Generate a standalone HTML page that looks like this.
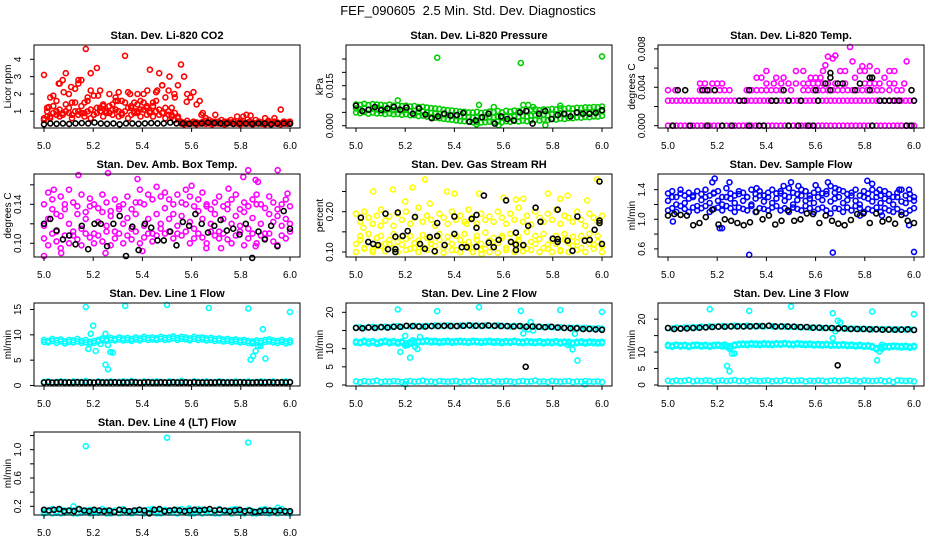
<!DOCTYPE html>
<html><head><meta charset="utf-8">
<style>
html,body{margin:0;padding:0;background:#fff;}
svg{display:block;font-family:"Liberation Sans",Arial,sans-serif;}
</style></head>
<body>
<svg id="chart" width="936" height="540" viewBox="0 0 936 540">
<text x="468" y="15" text-anchor="middle" font-size="13" style="white-space:pre" xml:space="preserve">FEF_090605  2.5 Min. Std. Dev. Diagnostics</text>
</svg>
<script>
// ---------- data ----------
const xTicks = [5.0, 5.2, 5.4, 5.6, 5.8, 6.0];
const xTickLabels = ["5.0", "5.2", "5.4", "5.6", "5.8", "6.0"];

const co2RedA = [0.5,0.7,0.6,0.9,1.0,0.7,0.8,1.0,0.9,0.6,1.0,0.8,0.9,0.7,1.0,0.6,0.8,0.9,1.2,0.7,1.0,0.9,0.8,1.1,0.7,0.9,1.0,0.6,0.8,1.0,0.9,0.7,1.1,0.8,0.9,0.7,1.0,0.8,0.9,0.6,0.8,0.7,0.5,0.6,0.4,0.35,0.45,0.3,0.4,0.35,0.3,0.4,0.45,0.35,0.3,0.4,0.35,0.3,0.4,0.3,0.35,0.4,0.3,0.35,0.45,0.3,0.4,0.35,0.3,0.4,0.35,0.3,0.45,0.3,0.4,0.35,0.3,0.4,0.35,0.3];
const co2RedB = [3.1,1.2,1.8,1.9,1.6,2.6,2.8,3.2,2.0,1.5,2.3,2.6,2.8,1.5,1.8,3.2,1.9,3.5,2.2,1.3,1.0,2.0,1.4,1.8,2.1,1.6,4.2,2.1,1.2,1.5,1.0,1.6,2.0,1.3,3.4,1.5,2.1,3.2,2.5,1.8,2.2,1.2,1.8,2.5,3.7,3.0,2.0,1.8,2.1,1.4,1.6,0.9,0.6,0.5,0.4,0.8,0.4,0.5,0.3,0.4,0.5,0.4,0.7,0.4,0.3,0.8,0.4,0.3,0.5,0.4,0.3,0.6,0.4,0.3,0.6,0.3,1.1,0.4,0.3,0.4];
const co2RedC = [0.6,1.0,0.7,1.3,0.8,1.1,0.9,1.4,1.2,0.8,1.5,1.0,1.3,0.9,1.6,1.1,0.8,1.2,1.0,1.4,0.9,1.3,1.1,1.6,1.0,0.8,1.5,1.2,1.3,0.9,1.4,1.1,1.5,1.2,1.0,1.3,1.6,1.1,0.9,1.2,1.0,0.8,0.9,0.7,0.3,0.25,0.3,0.28,0.3,0.25,0.32,0.3,0.28,0.3,0.25,0.3,0.3,0.28,0.25,0.3,0.32,0.28,0.3,0.25,0.3,0.28,0.3,0.25,0.3,0.3,0.28,0.25,0.3,0.32,0.3,0.28,0.25,0.3,0.28,0.3];
const co2RedOut = [[5.17,4.6],[5.06,2.6],[5.02,1.25],[5.08,2.1],[5.11,2.4],[5.14,2.8],[5.19,2.2],[5.22,1.9],[5.3,1.6],[5.35,2.0],[5.38,2.0],[5.42,2.2],[5.46,2.2],[5.48,2.5],[5.51,3.0],[5.53,2.0],[5.58,1.55],[5.64,0.8],[5.81,0.7],[5.84,0.75]];
const co2Black = [0.25,0.3,0.28,0.3,0.27,0.3,0.32,0.3,0.35,0.3,0.28,0.3,0.25,0.3,0.3,0.28,0.3,0.32,0.3,0.3,0.35,0.3,0.3,0.28,0.3,0.3,0.35,0.32,0.3,0.3,0.28,0.3,0.3,0.28,0.3,0.3,0.25,0.3,0.3,0.28];

const presMid = [0.0065,0.0062,0.0066,0.0060,0.0064,0.0061,0.0063,0.0059,0.0062,0.0058,0.0060,0.0057,0.0059,0.0055,0.0056,0.0052,0.0054,0.0050,0.0048,0.0046,0.0044,0.0042,0.0040,0.0038,0.0036,0.0035,0.0033,0.0032,0.0030,0.0031,0.0029,0.0030,0.0032,0.0031,0.0033,0.0030,0.0034,0.0032,0.0035,0.0033,0.0036,0.0034,0.0037,0.0039,0.0036,0.0040,0.0038,0.0042,0.0040,0.0044,0.0042,0.0046,0.0045,0.0048,0.0047,0.0050,0.0049,0.0052,0.0051,0.0054];
const presHi = [0.0080,0.0078,0.0082,0.0077,0.0081,0.0079,0.0078,0.0076,0.0079,0.0075,0.0077,0.0074,0.0075,0.0072,0.0074,0.0070,0.0071,0.0068,0.0066,0.0065,0.0063,0.0060,0.0058,0.0057,0.0055,0.0053,0.0052,0.0050,0.0049,0.0052,0.0048,0.0050,0.0053,0.0051,0.0055,0.0050,0.0056,0.0053,0.0057,0.0055,0.0059,0.0056,0.0060,0.0062,0.0058,0.0061,0.0060,0.0063,0.0061,0.0065,0.0063,0.0066,0.0064,0.0067,0.0066,0.0069,0.0068,0.0070,0.0069,0.0072];
const presLo = [0.0050,0.0047,0.0051,0.0045,0.0049,0.0046,0.0047,0.0044,0.0046,0.0043,0.0044,0.0041,0.0043,0.0039,0.0040,0.0036,0.0038,0.0034,0.0032,0.0030,0.0028,0.0026,0.0024,0.0022,0.0020,0.0018,0.0017,0.0015,0.0013,0.0014,0.0012,0.0013,0.0015,0.0014,0.0016,0.0013,0.0017,0.0015,0.0018,0.0016,0.0019,0.0017,0.0020,0.0022,0.0019,0.0023,0.0021,0.0025,0.0023,0.0027,0.0025,0.0029,0.0028,0.0031,0.0030,0.0033,0.0032,0.0035,0.0034,0.0037];
const presOut = [[5.33,0.0255],[5.67,0.0235],[6.0,0.026],[5.17,0.0095],[5.5,0.0078],[5.68,0.0078],[5.7,0.0078],[5.83,0.0075],[5.49,0.0005],[5.58,0.0002],[5.77,0.0002],[5.56,0.007],[5.72,0.007]];
const presBlack = [0.0075,0.0055,0.006,0.007,0.0058,0.0065,0.007,0.006,0.0068,0.0045,0.0065,0.0042,0.0028,0.0035,0.0045,0.0038,0.004,0.0048,0.0015,0.002,0.0032,0.0045,0.0008,0.0035,0.0025,0.002,0.005,0.0055,0.0008,0.0045,0.0055,0.0025,0.004,0.0045,0.0035,0.005,0.0045,0.0045,0.0048,0.0058];

const tempZero = [0,0,0,0,0,0,0,0,0,0,0,0,0,0,0,0,0,0,0,0,0,0,0,0,0,0,0,0,0,0,0,0,0,0,0,0,0,0,0,0,0,0,0,0,0,0,0,0,0,0,0,0,0,0,0,0,0,0,0,0];
const tempLevel2 = [0.0026,0.0026,0.0026,0.0026,0.0026,0.0026,0.0026,0.0026,0.0026,0.0026,0.0026,0.0026,0.0026,0.0026,0.0026,0.0026,0.0026,0.0026,0.0026,0.0026,0.0026,0.0026,0.0026,0.0026,0.0026,0.0026,0.0026,0.0026,0.0026,0.0026,0.0026,0.0026,0.0026,0.0026,0.0026,0.0026,0.0026,0.0026,0.0026,0.0026,0.0026,0.0026,0.0026,0.0026,0.0026,0.0026,0.0026,0.0026,0.0026,0.0026,0.0026,0.0026,0.0026,0.0026,0.0026,0.0026,0.0026,0.0026,0.0026,0.0026];
const tempLevel3X = [5.0,5.03,5.13,5.15,5.17,5.19,5.21,5.23,5.25,5.32,5.34,5.36,5.38,5.4,5.42,5.44,5.46,5.5,5.55,5.57,5.59,5.61,5.63,5.65,5.67,5.69,5.71,5.73,5.75,5.77,5.79,5.81,5.83,5.85,5.87,5.9,5.93,5.95];
const tempLevel3Y = [0.0037,0.0037,0.0037,0.0037,0.0037,0.0037,0.0037,0.0037,0.0037,0.0037,0.0037,0.0037,0.0037,0.0037,0.0037,0.0037,0.0037,0.0037,0.0037,0.0037,0.0037,0.0037,0.0037,0.0037,0.0037,0.0037,0.0037,0.0037,0.0037,0.0037,0.0037,0.0037,0.0037,0.0037,0.0037,0.0037,0.0037,0.0037];
const tempLevel4X = [5.13,5.15,5.18,5.2,5.22,5.4,5.43,5.46,5.49,5.52,5.55,5.57,5.59,5.61,5.63,5.65,5.68,5.72,5.8,5.82,5.84,5.86,5.9,5.92,5.96];
const tempLevel4Y = [0.0044,0.0044,0.0044,0.0044,0.0044,0.0044,0.0044,0.0044,0.0044,0.0044,0.0044,0.0044,0.0044,0.0044,0.0044,0.0044,0.0044,0.0044,0.0044,0.0044,0.0044,0.0044,0.0044,0.0044,0.0044];
const tempHigh = [[5.36,0.005],[5.38,0.005],[5.4,0.0057],[5.44,0.005],[5.47,0.005],[5.52,0.0057],[5.55,0.0057],[5.6,0.005],[5.62,0.005],[5.63,0.0057],[5.64,0.0063],[5.65,0.0072],[5.67,0.007],[5.68,0.0073],[5.7,0.0057],[5.72,0.0057],[5.74,0.0082],[5.75,0.0067],[5.78,0.0057],[5.79,0.0062],[5.82,0.0062],[5.8,0.0057],[5.85,0.0057],[5.9,0.0057],[5.92,0.0057],[5.97,0.0067],[5.88,0.005],[5.76,0.005],[5.58,0.005]];
const tempBlack = [[5.02,0],[5.09,0],[5.16,0],[5.22,0],[5.26,0],[5.33,0],[5.37,0],[5.39,0],[5.49,0],[5.53,0],[5.57,0],[5.59,0],[5.83,0],[5.97,0],[5.99,0],[5.04,0.0037],[5.07,0.0037],[5.14,0.0037],[5.16,0.0037],[5.19,0.0037],[5.33,0.0037],[5.47,0.0037],[5.6,0.0037],[5.66,0.0037],[5.76,0.0037],[5.82,0.0037],[5.99,0.0037],[5.29,0.0026],[5.31,0.0026],[5.42,0.0026],[5.44,0.0026],[5.49,0.0026],[5.54,0.0026],[5.61,0.0026],[5.86,0.0026],[5.88,0.0026],[5.9,0.0026],[5.92,0.0026],[5.94,0.0026],[6.0,0.0026],[5.64,0.0044],[5.69,0.0044],[5.71,0.0044],[5.78,0.0044],[5.66,0.005],[5.66,0.0055],[5.83,0.005],[5.82,0.005]];

const ambA = [0.118,0.125,0.135,0.112,0.128,0.14,0.12,0.108,0.13,0.115,0.125,0.138,0.11,0.122,0.132,0.118,0.128,0.112,0.135,0.12,0.126,0.115,0.13,0.142,0.118,0.125,0.11,0.13,0.12,0.136,0.125,0.13,0.118,0.128,0.14,0.122,0.115,0.133,0.125,0.138,0.12,0.13,0.112,0.125,0.135,0.12,0.128,0.118,0.132,0.115,0.126,0.14,0.12,0.11,0.13,0.122,0.128,0.118,0.125,0.12];
const ambB = [0.14,0.152,0.145,0.13,0.148,0.135,0.155,0.142,0.138,0.15,0.132,0.146,0.14,0.136,0.15,0.142,0.133,0.145,0.138,0.14,0.148,0.135,0.142,0.155,0.14,0.15,0.145,0.158,0.148,0.152,0.145,0.14,0.15,0.142,0.155,0.148,0.138,0.145,0.152,0.14,0.135,0.142,0.148,0.138,0.14,0.145,0.15,0.135,0.142,0.138,0.145,0.15,0.14,0.136,0.148,0.142,0.135,0.14,0.145,0.138];
const ambC = [0.105,0.098,0.11,0.102,0.095,0.108,0.1,0.112,0.104,0.098,0.11,0.106,0.1,0.108,0.102,0.112,0.098,0.105,0.11,0.1,0.108,0.104,0.112,0.1,0.106,0.11,0.102,0.108,0.115,0.11,0.112,0.105,0.11,0.108,0.112,0.1,0.105,0.11,0.106,0.1,0.112,0.108,0.105,0.11,0.104,0.1,0.108,0.112,0.098,0.105,0.11,0.1,0.108,0.105,0.11,0.102,0.098,0.108,0.105,0.112];
const ambOut = [[5.0,0.087],[5.14,0.17],[5.04,0.155],[5.26,0.172],[5.38,0.166],[5.6,0.159],[5.75,0.156],[5.83,0.175],[5.81,0.168],[5.86,0.165],[5.87,0.163],[5.95,0.175],[5.99,0.151],[5.07,0.09],[5.25,0.09],[5.4,0.092],[5.66,0.095],[5.72,0.095],[5.86,0.097]];
const ambBlack = [0.12,0.125,0.113,0.104,0.108,0.099,0.118,0.094,0.12,0.12,0.097,0.12,0.128,0.087,0.117,0.093,0.12,0.116,0.103,0.103,0.112,0.098,0.122,0.118,0.13,0.12,0.111,0.118,0.124,0.113,0.115,0.109,0.12,0.085,0.112,0.104,0.118,0.097,0.133,0.115];

const rhLoA = [0.12,0.13,0.11,0.125,0.105,0.135,0.115,0.12,0.13,0.11,0.125,0.118,0.132,0.108,0.122,0.128,0.112,0.135,0.12,0.115,0.13,0.11,0.125,0.12,0.105,0.13,0.118,0.125,0.112,0.13,0.12,0.108,0.128,0.115,0.122,0.135,0.11,0.125,0.12,0.13,0.115,0.108,0.125,0.12,0.132,0.11,0.118,0.128,0.12,0.105,0.13,0.122,0.115,0.125,0.11,0.13,0.12,0.118,0.125,0.115];
const rhLoB = [0.1,0.14,0.108,0.145,0.1,0.115,0.14,0.102,0.12,0.145,0.1,0.138,0.105,0.14,0.11,0.1,0.142,0.105,0.13,0.1,0.145,0.098,0.138,0.105,0.14,0.1,0.145,0.11,0.1,0.14,0.105,0.148,0.1,0.135,0.098,0.14,0.105,0.145,0.1,0.138,0.102,0.15,0.105,0.14,0.1,0.145,0.108,0.1,0.14,0.102,0.145,0.1,0.138,0.105,0.14,0.1,0.145,0.108,0.14,0.1];
const rhHi = [0.195,0.175,0.2,0.185,0.17,0.19,0.205,0.178,0.188,0.165,0.195,0.18,0.2,0.17,0.185,0.21,0.175,0.19,0.18,0.165,0.195,0.185,0.17,0.2,0.18,0.19,0.175,0.205,0.185,0.17,0.195,0.18,0.188,0.175,0.2,0.185,0.17,0.195,0.18,0.21,0.175,0.19,0.168,0.2,0.185,0.175,0.195,0.18,0.205,0.17,0.19,0.185,0.175,0.2,0.18,0.165,0.195,0.185,0.175,0.19];
const rhOut = [[5.07,0.25],[5.15,0.255],[5.23,0.26],[5.28,0.28],[5.37,0.25],[5.4,0.245],[5.5,0.245],[5.6,0.235],[5.65,0.23],[5.68,0.232],[5.78,0.245],[5.83,0.232],[5.86,0.24],[5.94,0.228],[5.98,0.28],[5.2,0.225],[5.3,0.22],[5.51,0.095],[5.03,0.16],[5.1,0.165],[5.45,0.17]];
const rhBlack = [[5.02,0.185],[5.05,0.125],[5.07,0.12],[5.09,0.117],[5.12,0.195],[5.13,0.107],[5.16,0.1],[5.16,0.107],[5.17,0.198],[5.16,0.138],[5.19,0.14],[5.21,0.152],[5.24,0.187],[5.26,0.12],[5.28,0.108],[5.3,0.137],[5.32,0.102],[5.33,0.172],[5.33,0.14],[5.36,0.117],[5.4,0.145],[5.4,0.188],[5.43,0.112],[5.45,0.112],[5.47,0.182],[5.49,0.113],[5.49,0.192],[5.49,0.16],[5.52,0.24],[5.54,0.123],[5.56,0.112],[5.58,0.13],[5.61,0.228],[5.63,0.125],[5.65,0.118],[5.65,0.148],[5.65,0.105],[5.68,0.117],[5.7,0.165],[5.73,0.21],[5.75,0.175],[5.8,0.133],[5.82,0.132],[5.82,0.205],[5.82,0.125],[5.86,0.128],[5.88,0.103],[5.9,0.188],[5.93,0.128],[5.95,0.13],[5.97,0.155],[5.99,0.275],[5.99,0.172],[5.99,0.178],[6.0,0.12]];

const sfA = [1.25,1.3,1.2,1.35,1.22,1.28,1.32,1.18,1.26,1.3,1.22,1.35,1.25,1.2,1.3,1.28,1.22,1.34,1.25,1.3,1.2,1.28,1.32,1.24,1.3,1.22,1.28,1.35,1.25,1.3,1.2,1.26,1.32,1.25,1.28,1.22,1.3,1.26,1.34,1.24,1.28,1.3,1.22,1.26,1.32,1.25,1.2,1.3,1.28,1.24,1.3,1.22,1.28,1.25,1.2,1.3,1.24,1.22,1.28,1.25];
const sfB = [1.35,1.38,1.3,1.4,1.32,1.36,1.3,1.38,1.34,1.4,1.32,1.36,1.38,1.3,1.42,1.35,1.32,1.38,1.36,1.3,1.4,1.34,1.38,1.32,1.36,1.4,1.35,1.38,1.32,1.42,1.36,1.34,1.4,1.38,1.32,1.36,1.4,1.35,1.38,1.45,1.36,1.4,1.38,1.34,1.36,1.4,1.32,1.38,1.35,1.4,1.36,1.32,1.38,1.34,1.3,1.36,1.4,1.32,1.34,1.3];
const sfC = [1.12,1.15,1.1,1.18,1.14,1.1,1.16,1.12,1.15,1.18,1.1,1.14,1.16,1.12,1.18,1.15,1.1,1.16,1.14,1.12,1.18,1.1,1.15,1.14,1.12,1.16,1.18,1.12,1.15,1.1,1.16,1.14,1.12,1.18,1.15,1.1,1.14,1.16,1.12,1.08,1.15,1.14,1.1,1.16,1.12,1.18,1.15,1.1,1.14,1.12,1.16,1.1,1.15,1.12,1.1,1.14,1.1,1.08,1.12,1.15];
const sfOut = [[5.02,0.97],[5.18,1.5],[5.19,1.55],[5.25,1.5],[5.21,0.88],[5.22,0.88],[5.33,0.52],[5.36,1.42],[5.47,1.45],[5.5,1.5],[5.53,1.45],[5.6,1.46],[5.65,1.5],[5.67,0.55],[5.68,1.42],[5.81,1.52],[5.83,1.48],[5.86,1.4],[5.94,1.4],[5.98,1.4],[5.98,0.92],[6.0,0.56],[5.78,1.05],[5.87,1.05]];
const sfBlack = [1.05,1.07,1.06,1.05,0.92,0.95,1.03,1.13,0.93,1.0,0.98,0.95,0.92,0.96,1.1,1.0,1.05,0.93,0.98,1.12,0.98,1.0,1.08,1.07,0.95,1.05,0.98,0.94,0.92,0.99,1.07,1.08,0.95,1.08,0.97,1.0,0.94,1.06,0.98,0.95];

const l1BandA = [9.0,8.8,9.2,8.9,9.1,8.7,9.0,8.9,9.2,8.8,9.0,8.6,8.8,9.0,9.3,9.1,9.4,9.2,9.5,9.3,9.4,9.2,9.5,9.3,9.6,9.4,9.5,9.3,9.6,9.4,9.5,9.7,9.4,9.6,9.5,9.3,9.6,9.4,9.5,9.3,9.4,9.2,9.3,9.1,9.2,9.0,9.1,8.9,9.0,8.8,8.7,8.9,8.8,9.0,9.1,8.9,8.8,9.0,8.7,8.9];
const l1BandB = [8.6,8.5,8.8,8.4,8.7,8.3,8.6,8.5,8.7,8.4,8.5,8.2,8.4,8.7,8.9,8.8,9.0,8.9,9.1,8.9,9.0,8.8,9.1,8.9,9.2,9.0,9.1,9.0,9.2,9.0,9.1,9.3,9.0,9.2,9.1,8.9,9.2,9.0,9.1,8.9,9.0,8.8,8.9,8.7,8.8,8.6,8.7,8.5,8.6,8.4,8.3,8.5,8.4,8.6,8.7,8.5,8.4,8.6,8.3,8.5];
const l1Low = [0.7,0.8,0.6,0.7,0.8,0.7,0.6,0.8,0.7,0.7,0.9,0.7,0.6,0.8,0.7,0.7,0.8,0.6,0.7,0.8,0.7,0.9,0.7,0.6,0.8,0.7,0.7,0.8,0.7,0.6,0.8,0.7,0.7,0.9,0.7,0.6,0.8,0.7,0.7,0.8,0.6,0.7,0.8,0.7,0.7,0.6,0.8,0.7,0.7,0.8,0.6,0.7,0.8,0.7,0.7,0.8,0.6,0.7,0.8,0.7];
const l1Out = [[5.17,15.5],[5.33,15.7],[5.5,15.9],[5.67,15.3],[5.83,15.2],[6.0,14.5],[5.18,7.2],[5.19,10.2],[5.2,11.8],[5.21,6.8],[5.25,10.2],[5.25,4.1],[5.26,3.2],[5.27,6.6],[5.28,6.5],[5.26,8.0],[5.23,8.2],[5.84,5.1],[5.85,5.8],[5.86,6.8],[5.87,7.8],[5.88,7.8],[5.89,11.1],[5.9,5.3],[5.85,8.5]];
const l1Black = [0.6,0.65,0.6,0.62,0.65,0.6,0.63,0.6,0.65,0.62,0.6,0.64,0.6,0.65,0.62,0.6,0.63,0.65,0.6,0.62,0.6,0.65,0.63,0.6,0.62,0.65,0.6,0.6,0.64,0.62,0.6,0.65,0.6,0.62,0.63,0.6,0.65,0.6,0.62,0.6,0.64,0.6,0.65,0.62,0.6,0.63,0.6,0.65,0.62,0.6,0.6,0.64,0.62,0.6,0.65,0.6,0.62,0.63,0.6,0.65];

const l2Top = [15.8,15.9,15.7,15.9,16.0,15.8,16.0,16.1,15.9,16.1,16.2,16.0,16.2,16.1,16.3,16.2,16.1,16.3,16.2,16.4,16.3,16.2,16.4,16.3,16.2,16.4,16.3,16.5,16.3,16.4,16.2,16.4,16.3,16.2,16.4,16.3,16.2,16.1,16.3,16.2,16.0,16.2,16.1,16.0,16.1,15.9,16.0,15.9,15.8,15.9,15.7,15.8,15.7,15.8,15.6,15.7,15.6,15.5,15.6,15.5];
const l2Black = [15.7,15.6,15.8,15.7,15.9,15.8,16.0,16.0,16.3,16.2,16.1,16.1,16.2,16.2,16.3,16.2,16.2,16.3,16.4,16.3,16.3,16.4,16.3,16.2,16.2,16.1,16.2,16.0,16.1,16.0,15.9,16.0,15.8,15.7,15.6,15.6,15.4,15.4,15.3,15.2];
const l2MidA = [12.0,11.8,12.2,11.9,12.1,11.7,12.0,12.2,11.9,12.1,11.8,12.0,11.5,11.8,12.0,12.1,12.2,12.3,12.1,12.2,12.0,12.1,12.2,12.0,12.1,12.2,12.1,12.0,12.2,12.1,12.0,12.1,12.2,12.0,12.1,11.9,12.1,12.0,12.2,12.0,11.9,12.1,12.0,11.9,12.1,11.8,12.0,11.9,12.1,11.8,12.0,11.9,11.7,11.9,12.0,11.8,12.0,11.9,11.8,11.9];
const l2MidB = [11.6,11.5,11.8,11.4,11.7,11.3,11.6,11.8,11.5,11.7,11.4,11.6,11.0,11.4,11.6,11.7,11.8,11.9,11.7,11.8,11.6,11.7,11.8,11.6,11.7,11.8,11.7,11.6,11.8,11.7,11.6,11.7,11.8,11.6,11.7,11.5,11.7,11.6,11.8,11.6,11.5,11.7,11.6,11.5,11.7,11.4,11.6,11.5,11.7,11.4,11.6,11.5,11.3,11.5,11.6,11.4,11.6,11.5,11.4,11.5];
const l2Low = [1.0,0.8,1.1,0.9,1.0,1.2,0.8,1.0,0.9,1.1,1.0,0.8,1.0,1.1,0.9,1.0,1.2,0.9,1.0,0.8,1.1,1.0,0.9,1.0,1.1,0.8,1.0,0.9,1.2,1.0,0.9,1.0,1.1,0.8,1.0,0.9,1.1,1.0,0.8,1.0,1.1,0.9,1.0,1.2,0.9,1.0,0.8,1.1,1.0,0.9,1.0,1.1,0.8,1.0,0.9,1.1,1.0,0.9,1.0,0.8];
const l2Out = [[5.17,20.8],[5.33,20.3],[5.5,21.4],[5.67,20.4],[5.83,20.6],[6.0,20.1],[5.18,9.1],[5.2,13.5],[5.22,7.5],[5.21,11.0],[5.23,12.3],[5.24,10.5],[5.25,9.9],[5.26,13.2],[5.2,10.8],[5.68,14.2],[5.7,15.3],[5.71,17.3],[5.72,15.0],[5.86,11.0],[5.88,9.8],[5.89,14.1],[5.9,6.7],[5.2,0.2],[5.93,0.2]];
const l2BlackOut = [[5.69,5.0]];

const l3Top = [17.3,17.2,17.4,17.3,17.5,17.4,17.6,17.5,17.7,17.6,17.8,17.7,17.8,17.9,17.8,17.9,18.0,17.9,17.8,18.0,17.9,17.8,17.9,17.8,17.9,17.8,17.7,17.8,17.7,17.6,17.7,17.6,17.5,17.6,17.4,17.5,17.4,17.3,17.4,17.3,17.2,17.3,17.2,17.1,17.2,17.1,17.0,17.1,17.0,16.9,17.0,16.9,16.9,17.0,16.8,16.9,16.9,16.8,16.9,16.8];
const l3Black = [17.3,17.0,17.1,17.2,17.3,17.4,17.5,17.6,17.7,17.7,17.8,17.8,17.8,17.8,17.9,17.9,18.0,17.8,17.8,17.8,17.7,17.6,17.6,17.4,17.4,17.3,17.3,17.2,17.2,17.0,17.0,17.0,16.9,16.9,16.8,16.8,16.8,16.8,16.9,16.7];
const l3MidA = [12.2,12.0,12.3,12.1,12.2,11.9,12.2,12.3,12.1,12.2,12.0,12.2,12.3,12.1,12.0,11.8,12.3,12.5,12.6,12.5,12.7,12.6,12.5,12.7,12.6,12.5,12.7,12.6,12.8,12.6,12.5,12.7,12.6,12.5,12.6,12.4,12.5,12.4,12.5,12.3,12.4,12.3,12.4,12.2,12.3,12.1,12.2,12.0,12.1,11.8,11.2,11.6,11.9,11.8,12.0,11.9,11.8,11.9,11.7,11.9];
const l3MidB = [11.8,11.6,11.9,11.7,11.8,11.5,11.8,11.9,11.7,11.8,11.6,11.8,11.9,11.7,11.6,11.4,11.9,12.1,12.2,12.1,12.3,12.2,12.1,12.3,12.2,12.1,12.3,12.2,12.4,12.2,12.1,12.3,12.2,12.1,12.2,12.0,12.1,12.0,12.1,11.9,12.0,11.9,12.0,11.8,11.9,11.7,11.8,11.6,11.7,11.4,10.8,11.2,11.5,11.4,11.6,11.5,11.4,11.5,11.3,11.5];
const l3Low = [1.3,1.1,1.4,1.2,1.3,1.5,1.1,1.3,1.2,1.4,1.3,1.1,1.3,1.4,1.2,1.3,1.5,1.2,1.3,1.1,1.4,1.3,1.2,1.3,1.4,1.1,1.3,1.2,1.5,1.3,1.2,1.3,1.4,1.1,1.3,1.2,1.4,1.3,1.1,1.3,1.4,1.2,1.3,1.5,1.2,1.3,1.1,1.4,1.3,1.2,1.3,1.4,1.1,1.3,0.9,1.4,1.3,1.2,1.3,1.1];
const l3Out = [[5.17,23.0],[5.33,22.5],[5.5,23.8],[5.67,21.8],[5.83,22.3],[6.0,21.5],[5.24,5.8],[5.25,4.2],[5.26,9.5],[5.27,9.6],[5.23,12.3],[5.25,11.0],[5.67,14.2],[5.68,16.3],[5.7,19.0],[5.69,19.5],[5.85,7.5],[5.86,10.2],[5.87,11.0],[5.87,12.2]];
const l3BlackOut = [[5.69,6.0]];

const l4BandA = [0.12,0.14,0.1,0.13,0.15,0.11,0.12,0.14,0.1,0.13,0.12,0.15,0.11,0.13,0.12,0.14,0.1,0.12,0.15,0.11,0.13,0.12,0.14,0.11,0.13,0.15,0.12,0.1,0.14,0.12,0.13,0.11,0.15,0.12,0.14,0.1,0.13,0.12,0.15,0.11,0.12,0.14,0.1,0.13,0.12,0.15,0.11,0.13,0.12,0.14,0.1,0.12,0.15,0.11,0.13,0.12,0.14,0.11,0.13,0.12];
const l4BandB = [0.1,0.12,0.16,0.11,0.1,0.14,0.12,0.1,0.16,0.11,0.14,0.1,0.13,0.11,0.16,0.1,0.13,0.14,0.1,0.16,0.11,0.1,0.12,0.15,0.1,0.11,0.16,0.13,0.1,0.15,0.11,0.14,0.1,0.16,0.11,0.13,0.1,0.16,0.1,0.14,0.11,0.1,0.16,0.12,0.14,0.1,0.16,0.11,0.1,0.15,0.13,0.1,0.11,0.16,0.1,0.14,0.1,0.16,0.11,0.1];
const l4Out = [[5.17,1.05],[5.5,1.17],[5.83,1.1],[5.12,0.2],[5.95,0.18],[5.59,0.17]];
const l4Black = [0.15,0.14,0.15,0.16,0.13,0.14,0.13,0.16,0.14,0.13,0.15,0.14,0.13,0.14,0.12,0.15,0.14,0.13,0.14,0.15,0.14,0.1,0.15,0.16,0.13,0.14,0.15,0.14,0.13,0.14,0.15,0.14,0.15,0.16,0.14,0.15,0.14,0.13,0.14,0.15,0.13,0.14,0.12,0.13,0.14,0.14,0.13,0.14,0.13,0.13];

// ---------- panel definitions ----------
const RED = "#ff0000", GREEN = "#00cd00", MAG = "#ff00ff", YEL = "#ffff00", BLUE = "#0000ff", CYAN = "#00ffff", BLK = "#000000";
const panels = [
 {name:"co2", col:0,row:0,title:"Stan. Dev. Li-820 CO2", ylab:"Licor ppm", ymin:0.036, ymax:4.826, ticks:[1,2,3,4], labels:["1","2","3","4"],
  series:[{c:RED,v:co2RedA},{c:RED,v:co2RedC},{c:RED,v:co2RedB},{c:RED,p:co2RedOut},{c:BLK,v:co2Black}]},
 {name:"pressure", col:1,row:0,title:"Stan. Dev. Li-820 Pressure", ylab:"kPa", ymin:-0.00086, ymax:0.03026, ticks:[0,0.005,0.01,0.015,0.02,0.025], labels:["0.000","","","0.015","",""],
  series:[{c:GREEN,v:presHi},{c:GREEN,v:presMid},{c:GREEN,v:presLo},{c:GREEN,p:presOut},{c:BLK,v:presBlack}]},
 {name:"temp", col:2,row:0,title:"Stan. Dev. Li-820 Temp.", ylab:"degrees C", ymin:-0.00024, ymax:0.008406, ticks:[0,0.002,0.004,0.006,0.008], labels:["0.000","","0.004","","0.008"],
  series:[{c:MAG,v:tempZero},{c:MAG,v:tempLevel2},{c:MAG,x:tempLevel3X,y:tempLevel3Y},{c:MAG,x:tempLevel4X,y:tempLevel4Y},{c:MAG,p:tempHigh},{c:BLK,p:tempBlack}]},
 {name:"amb-temp", col:0,row:1,title:"Stan. Dev. Amb. Box Temp.", ylab:"degrees C", ymin:0.08595, ymax:0.1711, ticks:[0.10,0.12,0.14,0.16], labels:["0.10","","0.14",""],
  series:[{c:MAG,v:ambA},{c:MAG,v:ambB},{c:MAG,v:ambC},{c:MAG,p:ambOut},{c:BLK,v:ambBlack}]},
 {name:"rh", col:1,row:1,title:"Stan. Dev. Gas Stream RH", ylab:"percent", ymin:0.0876, ymax:0.2935, ticks:[0.10,0.15,0.20,0.25], labels:["0.10","","0.20",""],
  series:[{c:YEL,v:rhLoA},{c:YEL,v:rhLoB},{c:YEL,v:rhHi},{c:YEL,p:rhOut},{c:BLK,p:rhBlack}]},
 {name:"sample-flow", col:2,row:1,title:"Stan. Dev. Sample Flow", ylab:"ml/min", ymin:0.4905, ymax:1.612, ticks:[0.6,0.8,1.0,1.2,1.4], labels:["0.6","","1.0","","1.4"],
  series:[{c:BLUE,v:sfA},{c:BLUE,v:sfB},{c:BLUE,v:sfC},{c:BLUE,p:sfOut},{c:BLK,v:sfBlack}]},
 {name:"line1", col:0,row:2,title:"Stan. Dev. Line 1 Flow", ylab:"ml/min", ymin:-0.1, ymax:16.28, ticks:[0,5,10,15], labels:["0","5","10","15"],
  series:[{c:CYAN,v:l1BandA},{c:CYAN,v:l1BandB},{c:CYAN,v:l1Low},{c:CYAN,p:l1Out},{c:BLK,v:l1Black}]},
 {name:"line2", col:1,row:2,title:"Stan. Dev. Line 2 Flow", ylab:"ml/min", ymin:-0.275, ymax:22.56, ticks:[0,5,10,15,20], labels:["0","5","10","","20"],
  series:[{c:CYAN,v:l2Top},{c:CYAN,v:l2MidA},{c:CYAN,v:l2MidB},{c:CYAN,v:l2Low},{c:CYAN,p:l2Out},{c:BLK,v:l2Black},{c:BLK,p:l2BlackOut}]},
 {name:"line3", col:2,row:2,title:"Stan. Dev. Line 3 Flow", ylab:"ml/min", ymin:-0.3, ymax:24.9, ticks:[0,5,10,15,20], labels:["0","5","10","","20"],
  series:[{c:CYAN,v:l3Top},{c:CYAN,v:l3MidA},{c:CYAN,v:l3MidB},{c:CYAN,v:l3Low},{c:CYAN,p:l3Out},{c:BLK,v:l3Black},{c:BLK,p:l3BlackOut}]},
 {name:"line4", col:0,row:3,title:"Stan. Dev. Line 4 (LT) Flow", ylab:"ml/min", ymin:0.077, ymax:1.25, ticks:[0.2,0.4,0.6,0.8,1.0,1.2], labels:["0.2","","0.6","","1.0",""],
  series:[{c:CYAN,v:l4BandA},{c:CYAN,v:l4BandB},{c:CYAN,p:l4Out},{c:BLK,v:l4Black}]}
];

// ---------- drawing ----------
const NS = "http://www.w3.org/2000/svg";
const svg = document.getElementById("chart");
function mk(tag, attrs, parent){ const e=document.createElementNS(NS,tag); for(const k in attrs) e.setAttribute(k,attrs[k]); parent.appendChild(e); return e; }

panels.forEach(P => {
  const left = 34 + 312*P.col, right = 300 + 312*P.col;
  const top = 45 + 129*P.row, bottom = 128 + 129*P.row;
  const x5 = 44 + 312*P.col, x6 = 290 + 312*P.col;
  const sx = v => x5 + (v-5)*(x6-x5);
  const sy = v => bottom - (v-P.ymin)/(P.ymax-P.ymin)*(bottom-top);

  const g = mk("g", {}, svg);
  
  

  const t = mk("text", {x:(left+right)/2, y:top-6, "text-anchor":"middle", "font-size":"11", "font-weight":"bold"}, g);
  t.textContent = P.title;
  
  

  const pts = mk("g", {fill:"none", "stroke-width":"1.6"}, g);
  
  
  P.series.forEach(S => {
    let arr = [];
    if (S.v) { const n=S.v.length; S.v.forEach((y,i)=>arr.push([5 + i/(n-1), y])); }
    else if (S.p) arr = S.p;
    else S.x.forEach((x,i)=>arr.push([x, S.y[i]]));
    arr.forEach(d => {
      const c = mk("circle", {cx:sx(d[0]).toFixed(1), cy:sy(d[1]).toFixed(1), r:"2.5", stroke:S.c}, pts);
      
      
    });
  });

  const box = mk("rect", {x:left, y:top, width:right-left, height:bottom-top, fill:"none", stroke:"#000", "stroke-width":"1"}, g);
  
  

  const xa = mk("g", {}, g);
  
  
  mk("line", {x1:sx(xTicks[0]), x2:sx(xTicks[xTicks.length-1]), y1:bottom, y2:bottom, stroke:"#000"}, xa);
  xTicks.forEach((v,i) => {
    mk("line", {x1:sx(v), x2:sx(v), y1:bottom, y2:bottom+4, stroke:"#000"}, xa);
    const l = mk("text", {x:sx(v), y:bottom+21, "text-anchor":"middle", "font-size":"10"}, xa);
    l.textContent = xTickLabels[i];
    
    
  });

  const ya = mk("g", {}, g);
  
  
  mk("line", {x1:left, x2:left, y1:sy(P.ticks[0]), y2:sy(P.ticks[P.ticks.length-1]), stroke:"#000"}, ya);
  P.ticks.forEach((v,i) => {
    const y = sy(v);
    mk("line", {x1:left-4, x2:left, y1:y, y2:y, stroke:"#000"}, ya);
    if (P.labels[i]) {
      const l = mk("text", {x:0, y:0, "text-anchor":"middle", "font-size":"10", transform:`translate(${left-13},${y}) rotate(-90)`}, ya);
      l.textContent = P.labels[i];
      
      
    }
  });
  const yl = mk("text", {x:0, y:0, "text-anchor":"middle", "font-size":"10", transform:`translate(${left-23},${(top+bottom)/2}) rotate(-90)`}, g);
  yl.textContent = P.ylab;
  
  
});
</script>
</body></html>
